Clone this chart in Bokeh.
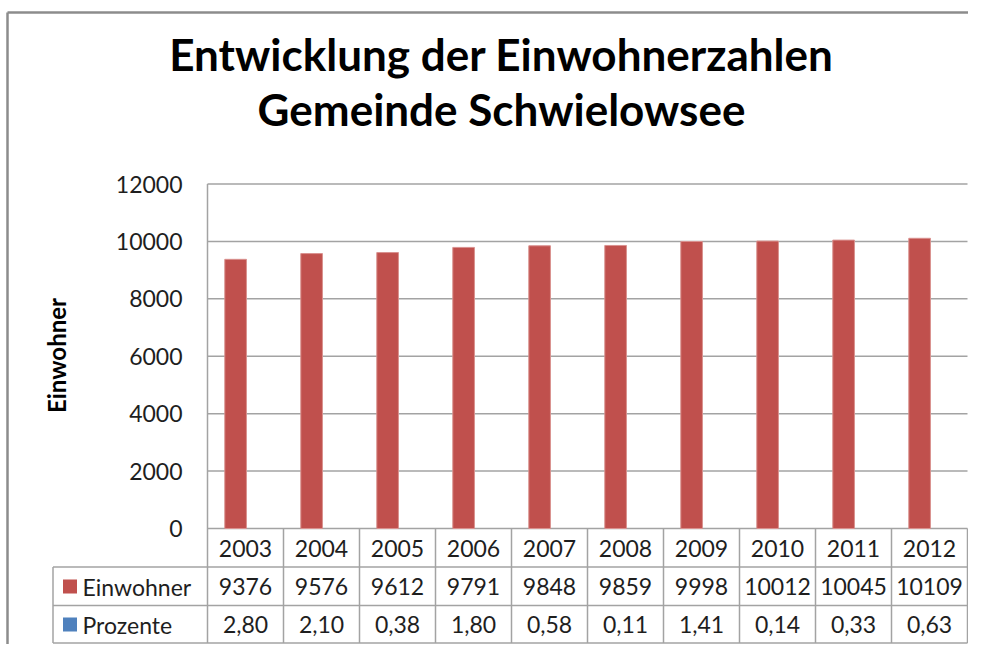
from math import pi
from bokeh.plotting import figure
from bokeh.models import ColumnDataSource, Range1d
from bokeh.transform import dodge
from bokeh.core.properties import value
from bokeh.embed import file_html
from bokeh.resources import INLINE

# ---- data ----
TITLE_LINES = ["Entwicklung der Einwohnerzahlen", "Gemeinde Schwielowsee"]
Y_LABEL = "Einwohner"
YEARS = ["2003", "2004", "2005", "2006", "2007", "2008", "2009", "2010", "2011", "2012"]
EINWOHNER = [9376, 9576, 9612, 9791, 9848, 9859, 9998, 10012, 10045, 10109]
PROZENTE = [2.80, 2.10, 0.38, 1.80, 0.58, 0.11, 1.41, 0.14, 0.33, 0.63]
SERIES_NAMES = ["Einwohner", "Prozente"]
SERIES_COLORS = ["#C0504D", "#4F81BD"]
Y_TICKS = [0, 2000, 4000, 6000, 8000, 10000, 12000]

FONT = value("Lato")
TXT = "#1e1e1e"
GRID = "#a3a3a3"
FS = "23px"

W, H = 968, 644
# layout mapping (canvas pixels -> data units)
X0 = 245.0           # canvas x of first category centre
XU = 76.0            # px per category
Y0 = 528.0           # canvas y of value 0
YU = 344.5 / 12000   # px per value unit


def dx(px):
    return (px - X0) / XU


def dy(py):
    return (Y0 - py) / YU


n = len(YEARS)
idx = list(range(n))
src = ColumnDataSource(dict(
    idx=idx,
    year=YEARS,
    einw=EINWOHNER,
    einw_s=[str(v) for v in EINWOHNER],
    proz_s=[f"{v:.2f}".replace(".", ",") for v in PROZENTE],
))

p = figure(width=W, height=H, output_backend="svg", toolbar_location=None,
           x_range=Range1d(dx(0), dx(W)), y_range=Range1d(dy(H), dy(0)),
           min_border=0, x_axis_type=None, y_axis_type=None)
p.grid.visible = False
p.outline_line_color = None
p.background_fill_color = "white"
p.border_fill_color = "white"

# chart border (left + top)
p.segment(x0=[dx(7), dx(7)], x1=[dx(7), dx(W)], y0=[dy(H), dy(12)],
          y1=[dy(12), dy(12)], line_color="#8c8c8c", line_width=2.5)

left_edge = -0.5
right_edge = n - 0.5

# gridlines
p.segment(x0=left_edge, x1=right_edge, y0=Y_TICKS, y1=Y_TICKS,
          line_color=GRID, line_width=1.5)

# table geometry (rows)
row_edges = [dy(528), dy(566.5), dy(605), dy(642.5)]
row_centers = [dy(547.5), dy(586), dy(624)]
name_col_left = dx(52.5)

# vertical lines: plot area left edge + table columns
p.segment(x0=left_edge, x1=left_edge, y0=max(Y_TICKS), y1=row_edges[-1],
          line_color=GRID, line_width=1.5)
col_lines = [i + 0.5 for i in idx]
p.segment(x0=col_lines, x1=col_lines, y0=row_edges[0], y1=row_edges[-1],
          line_color=GRID, line_width=1.5)
# horizontal table lines
p.segment(x0=name_col_left, x1=right_edge, y0=row_edges[1:], y1=row_edges[1:],
          line_color=GRID, line_width=1.5)
p.segment(x0=name_col_left, x1=name_col_left, y0=row_edges[1], y1=row_edges[-1],
          line_color=GRID, line_width=1.5)

# bars
p.vbar(x=dodge("idx", -0.13, range=p.x_range), top="einw", bottom=0, width=0.285,
       source=src, fill_color=SERIES_COLORS[0], line_color="#d9918f", line_width=1)

# y tick labels
p.text(x=dx(182), y=Y_TICKS, text=[str(t) for t in Y_TICKS], text_font=FONT,
       text_font_size=FS, text_align="right", text_baseline="middle", text_color=TXT)

# y axis title
p.text(x=[dx(55.5)], y=[dy(355)], text=[Y_LABEL], angle=pi / 2, text_font=FONT,
       text_font_size="24px", text_font_style="bold", text_align="center",
       text_baseline="middle", text_color="black")

# title
p.text(x=dx(501), y=[dy(53), dy(108)], text=TITLE_LINES, text_font=FONT,
       text_font_size="44px", text_font_style="bold", text_align="center",
       text_baseline="middle", text_color="black")

# table texts
p.text(x="idx", y=row_centers[0], text="year", source=src, text_font=FONT,
       text_font_size=FS, text_align="center", text_baseline="middle", text_color=TXT)
p.text(x="idx", y=row_centers[1], text="einw_s", source=src, text_font=FONT,
       text_font_size=FS, text_align="center", text_baseline="middle", text_color=TXT)
p.text(x="idx", y=row_centers[2], text="proz_s", source=src, text_font=FONT,
       text_font_size=FS, text_align="center", text_baseline="middle", text_color=TXT)

# series keys + names
p.scatter(x=dx(69.5), y=row_centers[1:], marker="square", size=14,
          fill_color=SERIES_COLORS, line_color=None)
p.text(x=dx(82), y=row_centers[1:], text=SERIES_NAMES, text_font=FONT,
       text_font_size=FS, text_align="left", text_baseline="middle", text_color=TXT)

open("out.html", "w").write(file_html(p, INLINE))
